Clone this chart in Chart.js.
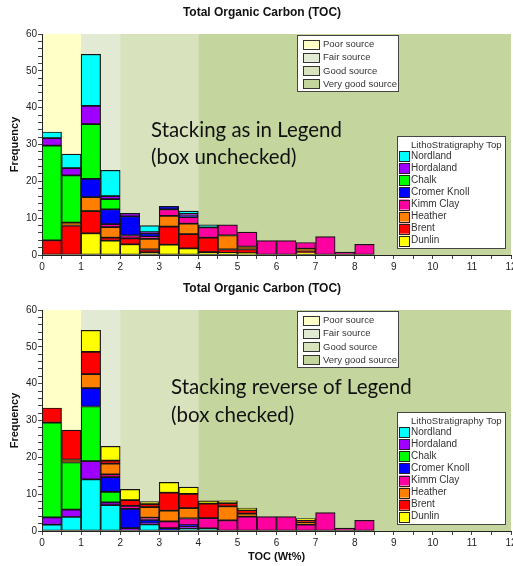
<!DOCTYPE html>
<html>
<head>
<meta charset="utf-8">
<title>Total Organic Carbon (TOC)</title>
<script src="https://cdn.jsdelivr.net/npm/chart.js@4.4.1/dist/chart.umd.min.js"></script>
<style>
  body { margin: 0; background: #fff; }
  .wrap { position: absolute; left: 0; width: 513px; }
  #topWrap { top: 0; height: 276px; }
  #bottomWrap { top: 276px; height: 290px; }
  canvas { display: block; }
</style>
</head>
<body>
<div class="wrap" id="topWrap"><canvas id="topChart" width="513" height="276"></canvas></div>
<div class="wrap" id="bottomWrap"><canvas id="bottomChart" width="513" height="290"></canvas></div>
<script>
// TOC bins (left edge, Wt%), each 0.5 wide
const binStarts = [0, 0.5, 1, 1.5, 2, 2.5, 3, 3.5, 4, 4.5, 5, 5.5, 6, 6.5, 7, 7.5, 8];
const binWidth = 0.5;

// Frequency per bin for each LithoStratigraphy Top
const nordland   = [1.7, 3.8, 14, 7, 0, 1.8, 0, 0.7, 0.7, 0, 0, 0, 0, 0, 0, 0, 0];
const hordaland  = [2, 2, 5, 0.8, 0.8, 0.3, 0, 0.6, 0, 0, 0, 0, 0, 0, 0, 0, 0];
const chalk      = [25.7, 12.8, 14.8, 2.8, 0, 0, 0, 0, 0, 0, 0, 0, 0, 0, 0, 0, 0];
const cromerKnoll = [0, 0, 5, 4, 5.2, 0.9, 0.8, 0.3, 0, 0, 0, 0, 0, 0, 0, 0, 0];
const kimmClay   = [0, 0, 0, 0.8, 0.8, 0.6, 1.8, 1.8, 2.8, 2.9, 3.9, 3.9, 3.9, 1.7, 5, 0.8, 2.9];
const heather    = [0, 0.8, 3.8, 2.9, 0, 2.9, 2.9, 2.8, 0, 3.8, 0.8, 0, 0, 0.7, 0, 0, 0];
const brent      = [4, 8, 6, 0.8, 1.6, 0.8, 4.9, 3.9, 3.9, 0.9, 1, 0, 0, 0.4, 0, 0, 0];
const dunlin     = [0, 0, 5.9, 3.9, 2.9, 0.7, 2.8, 1.8, 0.8, 0.6, 0.5, 0, 0, 0.6, 0, 0, 0];

// legend order (top to bottom)
const formations = ['Nordland', 'Hordaland', 'Chalk', 'Cromer Knoll', 'Kimm Clay', 'Heather', 'Brent', 'Dunlin'];
const formationValues = [nordland, hordaland, chalk, cromerKnoll, kimmClay, heather, brent, dunlin];
const formationColors = ['#00ffff', '#a000ff', '#00ff00', '#0000ff', '#ff00a0', '#ff8000', '#ff0000', '#ffff00'];

// source rock quality zones
const zoneNames = ['Poor source', 'Fair source', 'Good source', 'Very good source'];
const zoneStarts = [0, 1, 2, 4];
const zoneEnds = [1, 2, 4, 12];
const zoneColors = ['#ffffc8', '#e3ead4', '#d8e3bd', '#c4d69d'];

const xMin = 0, xMax = 12, xStep = 0.5;
const yMin = 0, yMax = 60, yStep = 2;

const FONT = "'Liberation Sans', Arial, sans-serif";

// Build datasets; first dataset sits at the bottom of the stack
function buildDatasets(reverse) {
    const order = formations.map((f, i) => i);
    if (!reverse) order.reverse();
    return order.map(i => ({
        label: formations[i],
        data: binStarts
            .map((b, j) => ({ x: b + binWidth / 2, y: formationValues[i][j] }))
            .filter(p => p.y > 0),
        backgroundColor: formationColors[i],
        borderColor: '#151515',
        borderWidth: 1.2,
        borderSkipped: false,
        categoryPercentage: 1,
        barPercentage: 1
    }));
}

// zones, title, legends and note text
const decorPlugin = {
    id: 'decor',
    beforeDraw(chart) {
        const { ctx, chartArea: a, scales: { x } } = chart;
        ctx.save();
        zoneNames.forEach((n, i) => {
            const x0 = x.getPixelForValue(zoneStarts[i]);
            const x1 = x.getPixelForValue(zoneEnds[i]);
            ctx.fillStyle = zoneColors[i];
            ctx.fillRect(x0, a.top, x1 - x0, a.bottom - a.top);
        });
        ctx.restore();
    },
    afterDraw(chart, args, opts) {
        const { ctx, chartArea: a } = chart;
        ctx.save();

        // title
        ctx.fillStyle = '#111';
        ctx.font = 'bold 12px ' + FONT;
        ctx.textAlign = 'center';
        ctx.textBaseline = 'middle';
        ctx.fillText('Total Organic Carbon (TOC)', 262, 13);

        // zone legend
        const zx = 297, zy = a.top + 1;
        ctx.fillStyle = '#fff';
        ctx.fillRect(zx, zy, 101, 56);
        ctx.strokeStyle = '#444';
        ctx.lineWidth = 1;
        ctx.strokeRect(zx + 0.5, zy + 0.5, 101, 56);
        ctx.font = '9.5px ' + FONT;
        ctx.textAlign = 'left';
        zoneNames.forEach((n, i) => {
            const cy = zy + 9.5 + i * 13.3;
            ctx.fillStyle = zoneColors[i];
            ctx.fillRect(zx + 6, cy - 5, 16, 9);
            ctx.strokeStyle = '#333';
            ctx.strokeRect(zx + 6.5, Math.round(cy - 5) + 0.5, 16, 9);
            ctx.fillStyle = '#333';
            ctx.fillText(n, zx + 26, cy);
        });

        // formation legend
        const lx = 397, ly = a.top + 102;
        ctx.fillStyle = '#fff';
        ctx.fillRect(lx, ly, 108, 112);
        ctx.strokeStyle = '#444';
        ctx.strokeRect(lx + 0.5, ly + 0.5, 108, 112);
        ctx.font = '9.6px ' + FONT;
        ctx.fillStyle = '#333';
        ctx.fillText('LithoStratigraphy Top', lx + 14, ly + 9);
        ctx.font = '10px ' + FONT;
        formations.forEach((f, i) => {
            const cy = ly + 20.3 + i * 12.06;
            ctx.fillStyle = formationColors[i];
            ctx.fillRect(lx + 2, cy - 5, 10, 10);
            ctx.strokeStyle = '#222';
            ctx.strokeRect(lx + 2.5, Math.round(cy - 5) + 0.5, 10, 10);
            ctx.fillStyle = '#333';
            ctx.fillText(f, lx + 14, cy);
        });

        // note text, sized to match the reference width of its first line
        ctx.font = '100px Lato';
        const size = 100 * opts.width / ctx.measureText(opts.lines[0]).width;
        ctx.font = size + 'px Lato';
        ctx.fillStyle = '#111';
        ctx.textBaseline = 'alphabetic';
        opts.lines.forEach((t, i) => ctx.fillText(t, opts.x, opts.baselines[i]));

        ctx.restore();
    }
};

function makeChart(id, reverse, note, xTitle) {
    const h = document.getElementById(id).height;
    return new Chart(document.getElementById(id), {
        type: 'bar',
        data: { datasets: buildDatasets(reverse) },
        plugins: [decorPlugin],
        options: {
            responsive: false,
            animation: false,
            layout: { padding: { top: 34, right: 2, bottom: 0, left: 0 } },
            scales: {
                x: {
                    type: 'linear',
                    min: xMin,
                    max: xMax,
                    offset: false,
                    stacked: true,
                    border: { display: true, color: '#222', width: 1 },
                    grid: { offset: false, drawOnChartArea: false, drawTicks: true, tickLength: 4, color: '#444' },
                    ticks: {
                        stepSize: xStep,
                        autoSkip: false,
                        maxRotation: 0,
                        padding: 2,
                        color: '#222',
                        font: { family: FONT, size: 10 },
                        callback: v => Number.isInteger(v) ? v : ''
                    },
                    title: {
                        display: !!xTitle,
                        text: xTitle,
                        color: '#111',
                        font: { family: FONT, size: 11, weight: 'bold' },
                        padding: { top: 0, bottom: 2 }
                    },
                    afterFit(s) {
                        s.paddingLeft = 0;
                        s.paddingRight = 0;
                        s.height = h - 255;
                    }
                },
                y: {
                    min: yMin,
                    max: yMax,
                    stacked: true,
                    border: { display: true, color: '#222', width: 1 },
                    grid: { drawOnChartArea: false, drawTicks: true, tickLength: 4, color: '#444' },
                    ticks: {
                        stepSize: yStep,
                        autoSkip: false,
                        padding: 1,
                        color: '#222',
                        font: { family: FONT, size: 10 },
                        callback: v => v % 10 === 0 ? v : ''
                    },
                    title: {
                        display: true,
                        text: 'Frequency',
                        color: '#111',
                        font: { family: FONT, size: 11, weight: 'bold' },
                        padding: { top: 8, bottom: 0 }
                    },
                    afterFit(s) {
                        s.width = 42;
                        s.paddingTop = 0;
                        s.paddingBottom = 0;
                    }
                }
            },
            plugins: {
                legend: { display: false },
                tooltip: { enabled: false },
                title: { display: false },
                decor: note
            }
        }
    });
}

makeChart('topChart', false,
    { lines: ['Stacking as in Legend', '(box unchecked)'], x: 151, baselines: [137, 164], width: 191 }, '');
makeChart('bottomChart', true,
    { lines: ['Stacking reverse of Legend', '(box checked)'], x: 171, baselines: [118, 146], width: 241 }, 'TOC (Wt%)');
</script>
</body>
</html>
